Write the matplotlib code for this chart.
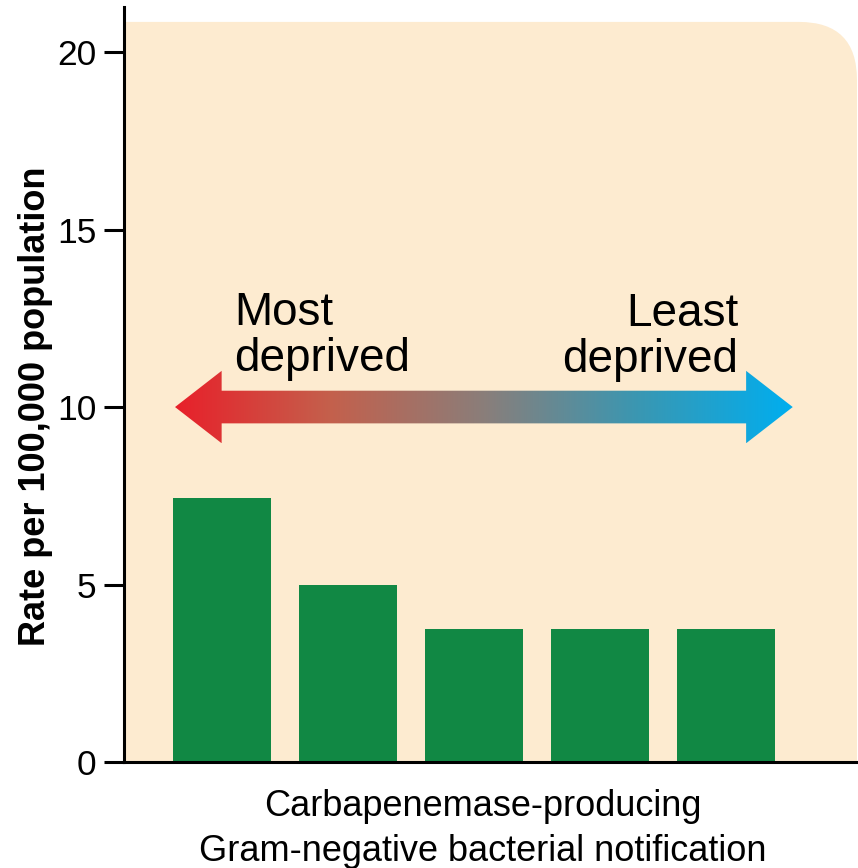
import numpy as np
import matplotlib
matplotlib.use("Agg")
import matplotlib.pyplot as plt
from matplotlib.colors import LinearSegmentedColormap
from matplotlib.patches import FancyBboxPatch, Polygon

# Rate per 100,000 population, most -> least deprived quintile
quintiles = ["Q1", "Q2", "Q3", "Q4", "Q5"]
rates = [7.45, 5.0, 3.75, 3.75, 3.75]
yticks = [0, 5, 10, 15, 20]

ylabel = "Rate per 100,000 population"
xlabel_lines = ["Carbapenemase-producing", "Gram-negative bacterial notification"]
left_label = ["Most", "deprived"]
right_label = ["Least", "deprived"]

GREEN = "#118844"
PEACH = "#FDEBD0"
arrow_cmap = LinearSegmentedColormap.from_list(
    "depr", ["#E8202A", "#C4604C", "#8A7E7A", "#3A97B2", "#00AEEF"])

plt.rcParams["font.family"] = ["Liberation Sans", "DejaVu Sans"]

W, H = 858, 868
fig = plt.figure(figsize=(W / 100, H / 100), dpi=100)
ax = fig.add_axes([124 / W, 106 / H, 734 / W, 755 / H])

x = np.arange(len(rates))
ax.bar(x, rates, width=0.78, color=GREEN, zorder=2)

ax.set_xlim(-0.778, 5.048)
ax.set_ylim(0, 21.27)

# pixel scale of data units, used to keep the rounded corner circular
p0 = ax.transData.transform((0, 0))
p1 = ax.transData.transform((1, 1))
aspect = (p1[0] - p0[0]) / (p1[1] - p0[1])

# peach panel with rounded top-right corner (other corners clipped away)
bg = FancyBboxPatch((-3, -2), 3 + 5.04, 2 + 20.85,
                    boxstyle="round,pad=0,rounding_size=0.46",
                    mutation_aspect=aspect, fc=PEACH, ec="none", zorder=0)
ax.add_patch(bg)
bg.set_clip_path(ax.patch)

# double-headed gradient arrow at y = 10
x0, x1, yc = -0.373, 4.53, 10.0
hl, hh, sh = 0.37, 1.02, 0.46
verts = [(x0, yc), (x0 + hl, yc + hh), (x0 + hl, yc + sh), (x1 - hl, yc + sh),
         (x1 - hl, yc + hh), (x1, yc), (x1 - hl, yc - hh), (x1 - hl, yc - sh),
         (x0 + hl, yc - sh), (x0 + hl, yc - hh)]
arrow = Polygon(verts, closed=True, fc="none", ec="none", transform=ax.transData)
ax.add_patch(arrow)
grad = ax.imshow(np.linspace(0, 1, 256).reshape(1, -1), cmap=arrow_cmap,
                 extent=[x0, x1, yc - hh, yc + hh], aspect="auto", zorder=3,
                 interpolation="bilinear")
grad.set_clip_path(arrow)
ax.set_xlim(-0.778, 5.048)
ax.set_ylim(0, 21.27)

for txt, yy in zip(left_label, [12.32, 11.02]):
    ax.text(0.10, yy, txt, fontsize=33, ha="left", va="baseline", zorder=4)
for txt, yy in zip(right_label, [12.27, 10.99]):
    ax.text(4.10, yy, txt, fontsize=33, ha="right", va="baseline", zorder=4)

for side in ["top", "right"]:
    ax.spines[side].set_visible(False)
for side in ["left", "bottom"]:
    ax.spines[side].set_linewidth(2.2)
    ax.spines[side].set_zorder(5)
ax.set_facecolor("white")

ax.set_xticks([])
ax.set_yticks(yticks)
ax.tick_params(axis="y", length=14.4, width=2.2, labelsize=25.5, pad=5.5)

# two-line category label under the axis
for txt, py in zip(xlabel_lines, [816, 861]):
    fig.text(483 / W, 1 - py / H, txt, fontsize=26, ha="center", va="baseline")
fig.text(36 / W, 1 - 406 / H, ylabel, rotation=90, fontsize=26,
         fontweight="bold", ha="center", va="center")

fig.savefig("out.png", dpi=100)
